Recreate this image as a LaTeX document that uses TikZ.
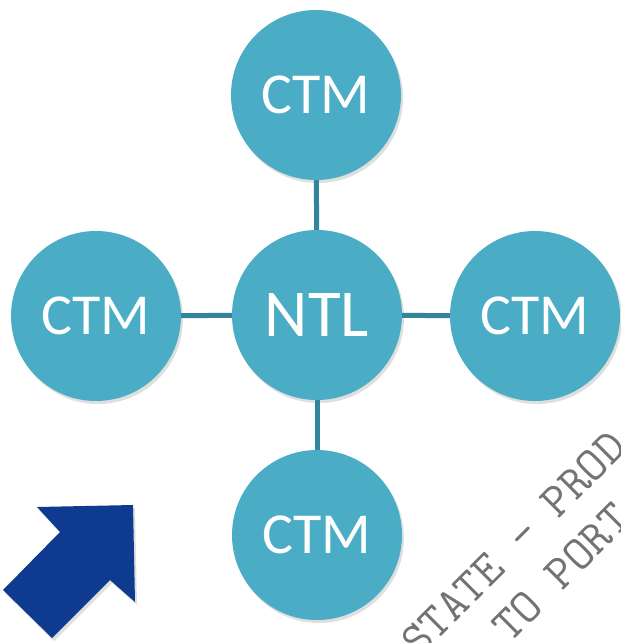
\documentclass[tikz,border=0pt]{standalone}
\usepackage{fontspec}
\setmainfont{Carlito}
\usetikzlibrary{shadows}
\definecolor{aqua}{HTML}{4BACC6}
\definecolor{linkteal}{HTML}{31859C}
\definecolor{navy}{HTML}{0E3A8F}
\begin{document}
\begin{tikzpicture}[
    x=1pt, y=-1pt,
    unit/.style={circle, fill=aqua, text=white, minimum size=170pt, inner sep=0pt,
        drop shadow={opacity=0.25, shadow xshift=2pt, shadow yshift=-3pt}, font=\fontsize{58}{60}\selectfont},
    hub/.style={unit, font=\fontsize{67}{70}\selectfont},
    link/.style={draw=linkteal, line width=5pt},
    stamp/.style={text=black!55, rotate=45, anchor=base west, inner sep=0pt, font=\ttfamily\fontsize{48}{50}\selectfont}
]
    % Frame
    \clip (0,0) rectangle (621,643);
    \fill[white] (0,0) rectangle (621,643);

    % Nodes
    \node[hub] (ntl) at (317,315) {NTL};
    \node[unit] (north) at (316,95) {CTM};
    \node[unit] (west) at (96,316) {CTM};
    \node[unit] (east) at (535,316) {CTM};
    \node[unit] (south) at (317,535) {CTM};

    % Links
    \draw[link] (ntl) -- (north);
    \draw[link] (ntl) -- (west);
    \draw[link] (ntl) -- (east);
    \draw[link] (ntl) -- (south);

    % Arrow
    \fill[navy, drop shadow={opacity=0.25, shadow xshift=2pt, shadow yshift=-3pt}]
        (37,507) -- (133,505) -- (135,602) -- (110,580) -- (52,638) -- (3,590) -- (60,532) -- cycle;

    % Watermark
    \node[stamp] (markA) at (419,659) {STATE — PROD};
    \node[stamp] (markB) at (510,644) {TO PORT};

\end{tikzpicture}
\end{document}
